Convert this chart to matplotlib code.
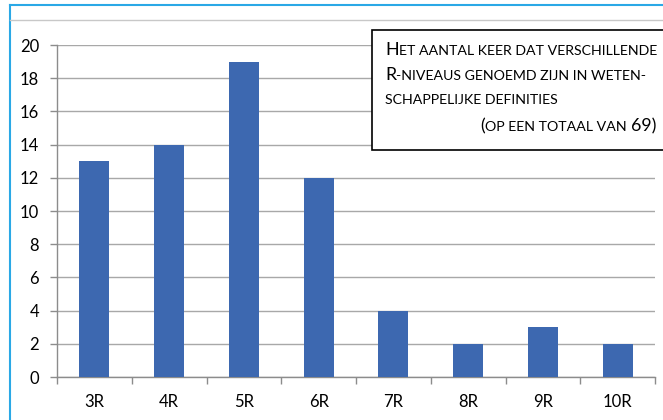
import matplotlib
matplotlib.use("Agg")
import matplotlib.pyplot as plt
from matplotlib.lines import Line2D
from matplotlib.patches import Rectangle

categories = ["3R", "4R", "5R", "6R", "7R", "8R", "9R", "10R"]
values = [13, 14, 19, 12, 4, 2, 3, 2]
yticks = [0, 2, 4, 6, 8, 10, 12, 14, 16, 18, 20]

FONT = "Lato"
plt.rcParams["font.family"] = [FONT, "DejaVu Sans"]

fig = plt.figure(figsize=(6.63, 4.20), dpi=100)
W, H = 663, 420
ax = fig.add_axes([57 / W, 1 - 377 / H, (655 - 57) / W, (377 - 45) / H])

x = list(range(len(categories)))
ax.bar(x, values, width=0.4, color="#3d68b0", zorder=3)
ax.set_xlim(-0.5, len(categories) - 0.5)
ax.set_ylim(0, 20)
ax.set_yticks(yticks)
ax.set_yticklabels([str(v) for v in yticks], fontsize=12, color="#000000")
ax.set_xticks(x)
ax.set_xticklabels(categories, fontsize=12, color="#000000")
ax.set_xticks([i - 0.5 for i in range(len(categories) + 1)], minor=True)
ax.tick_params(axis="x", which="major", length=0, pad=12)
ax.tick_params(axis="x", which="minor", length=5, color="#8c8c8c", width=1)
ax.tick_params(axis="y", length=5, color="#8c8c8c", width=1, pad=8)
ax.grid(axis="y", color="#a8a8a8", linewidth=1, zorder=0)
for s in ["top", "right"]:
    ax.spines[s].set_visible(False)
for s in ["left", "bottom"]:
    ax.spines[s].set_color("#8c8c8c")
    ax.spines[s].set_linewidth(1)

# figure frame decorations
fig.add_artist(Line2D([10 / W, 10 / W], [0, 1 - 5 / H], color="#2aa8e6", lw=1.5))
fig.add_artist(Line2D([10 / W, 1], [1 - 5 / H, 1 - 5 / H], color="#2aa8e6", lw=1.5))
fig.add_artist(Line2D([10 / W, 1], [1 - 20 / H, 1 - 20 / H], color="#c8c8c8", lw=1))

# text box
box = Rectangle((372 / W, 1 - 150 / H), (700 - 372) / W, (150 - 30) / H,
                transform=fig.transFigure, facecolor="white", edgecolor="black",
                lw=1.2, zorder=10)
fig.add_artist(box)

BIG, SMALL = 12.8, 10.2
renderer = fig.canvas.get_renderer()

def draw_pieces(pieces, x_px, y_px, align="left"):
    widths = []
    for txt, size in pieces:
        t = fig.text(0, 0, txt, fontsize=size, family=[FONT, "DejaVu Sans"])
        widths.append(t.get_window_extent(renderer).width)
        t.remove()
    total = sum(widths)
    cur = x_px if align == "left" else x_px - total
    for (txt, size), w in zip(pieces, widths):
        fig.text(cur / W, 1 - y_px / H, txt, fontsize=size, color="#000000",
                 va="baseline", ha="left", zorder=11, family=[FONT, "DejaVu Sans"])
        cur += w

draw_pieces([("H", BIG), ("ET AANTAL KEER DAT VERSCHILLENDE", SMALL)], 385, 55)
draw_pieces([("R", BIG), ("-NIVEAUS GENOEMD ZIJN IN WETEN-", SMALL)], 385, 80)
draw_pieces([("SCHAPPELIJKE DEFINITIES", SMALL)], 385, 104)
draw_pieces([("(", BIG), ("OP EEN TOTAAL VAN ", SMALL), ("69)", BIG)], 656, 131, align="right")

fig.savefig("out.png", dpi=100)
